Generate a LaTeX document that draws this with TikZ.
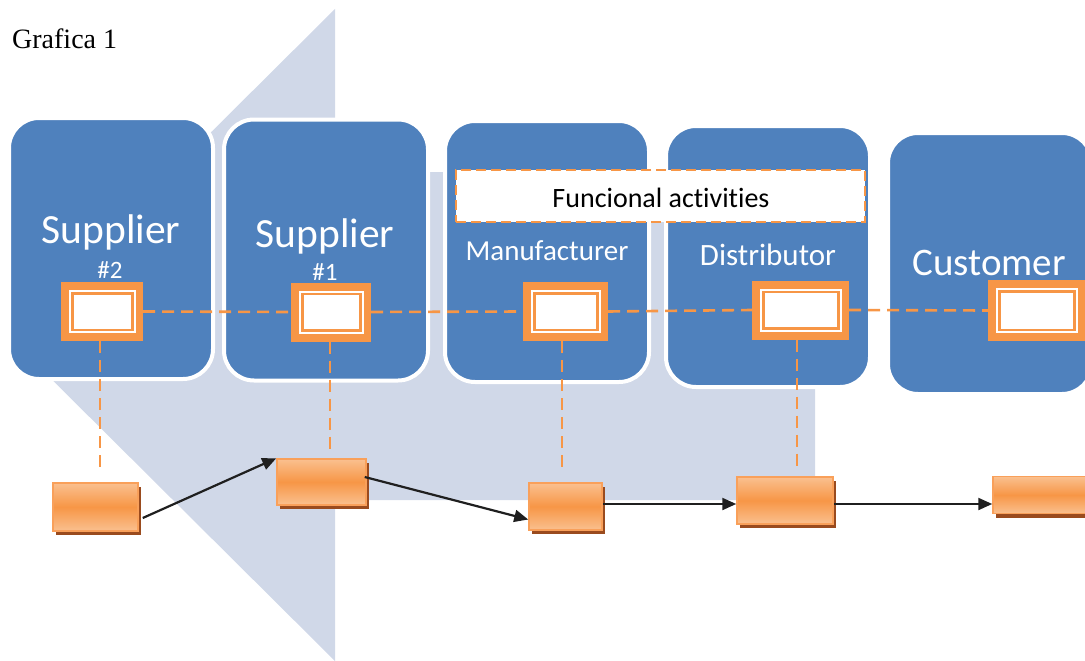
\documentclass[tikz,border=0pt]{standalone}
\usepackage{fontspec}
\setmainfont{Liberation Serif}
\newfontfamily\calfont[Ligatures=NoCommon]{Carlito}
\usetikzlibrary{arrows.meta,shadows}

\definecolor{boxblue}{HTML}{4F81BD}
\definecolor{backblue}{HTML}{D0D8E8}
\definecolor{boxorange}{HTML}{F79646}
\definecolor{orangelight}{HTML}{FAC08F}
\definecolor{orangeedge}{HTML}{F9A05A}
\definecolor{shadowbrown}{HTML}{9A4B1E}

\begin{document}
\begin{tikzpicture}[x=1pt,y=-1pt,
  bluebox/.style={rounded corners=30pt, fill=boxblue, draw=white, line width=4pt,
    minimum width=204pt, minimum height=261pt, inner sep=0pt},
  boxlabel/.style={text=white, anchor=base, inner sep=0pt},
  frame/.style={minimum width=#1, minimum height=59pt, inner sep=0pt, fill=boxorange,
    path picture={
      \fill[white] ([xshift=8pt,yshift=-8pt]path picture bounding box.north west)
        rectangle ([xshift=-7pt,yshift=8pt]path picture bounding box.south east);
      \draw[boxorange, line width=2.5pt]
        ([xshift=11.5pt,yshift=-11.5pt]path picture bounding box.north west)
        rectangle ([xshift=-10.5pt,yshift=11pt]path picture bounding box.south east);
    }},
  flowbox/.style={minimum width=#1, inner sep=0pt,
    top color=orangelight, bottom color=orangelight, middle color=boxorange,
    draw=orangeedge, line width=1.5pt,
    drop shadow={shadow xshift=3pt, shadow yshift=-4pt, fill=shadowbrown, opacity=1}},
  linkdash/.style={draw=boxorange, line width=2.6pt, dash pattern=on 12pt off 7pt},
  flowarrow/.style={-{Triangle[length=14pt,width=12pt]}, line width=2.2pt, draw=black!88}
]
\useasboundingbox (0,0) rectangle (1085,661);

% wide arrow in the background, pointing left
\fill[backblue] (335,9) -- (7,335) -- (335,661) -- (335,500) -- (815,500)
  -- (815,172) -- (335,172) -- cycle;

% title
\node[anchor=base west, inner sep=0pt, font=\fontsize{28}{32}\selectfont] (title) at (12,49) {Grafica 1};

% stages of the chain
\node[bluebox] (s2) at (111,248.5) {};
\node[bluebox] (s1) at (326,250) {};
\node[bluebox] (man) at (547,251.5) {};
\node[bluebox] (dis) at (768,256.5) {};
\node[bluebox] (cus) at (990,263.5) {};

\node[boxlabel, font=\calfont\fontsize{41.5}{48}\selectfont] (ts2) at (111,243) {Supplier};
\node[boxlabel, font=\calfont\fontsize{25}{30}\selectfont] (ns2) at (110,278) {\#2};
\node[boxlabel, font=\calfont\fontsize{41.5}{48}\selectfont] (ts1) at (325,247) {Supplier};
\node[boxlabel, font=\calfont\fontsize{25}{30}\selectfont] (ns1) at (325,280) {\#1};
\node[boxlabel, font=\calfont\fontsize{29}{34}\selectfont] (tman) at (547,260) {Manufacturer};
\node[boxlabel, font=\calfont\fontsize{31}{36}\selectfont] (tdis) at (768,265) {Distributor};
\node[boxlabel, font=\calfont\fontsize{39}{46}\selectfont] (tcus) at (989,275) {Customer};

% functional activities band
\node[fill=white, draw=boxorange, line width=2.2pt, dash pattern=on 10pt off 5pt,
  minimum width=409pt, minimum height=52pt, inner sep=0pt] (func) at (660.5,196) {};
\node[anchor=base, inner sep=0pt, font=\calfont\fontsize{28}{32}\selectfont] (tfunc) at (661,207) {Funcional activities};

% frames on each stage
\node[frame=82pt] (f2) at (102,311.5) {};
\node[frame=80pt] (f1) at (331,312) {};
\node[frame=85pt] (fm) at (565.5,311.5) {};
\node[frame=97pt] (fd) at (800.5,310) {};
\node[frame=97pt, minimum height=61pt] (fc) at (1036.5,310.5) {};

% lower flow boxes
\node[flowbox=85pt, minimum height=48pt] (b1) at (95.5,507) {};
\node[flowbox=89pt, minimum height=46pt] (b2) at (321.5,482) {};
\node[flowbox=73pt, minimum height=47pt] (b3) at (565.5,506.5) {};
\node[flowbox=96pt, minimum height=47pt] (b4) at (785,500.5) {};
\node[flowbox=96pt, minimum height=37pt] (b5) at (1041,495) {};

% dashed links
\draw[linkdash] (f2.east) -- (f1.west);
\draw[linkdash] (f1.east) -- (fm.west);
\draw[linkdash] (fm.east) -- (fd.west);
\draw[linkdash] (fd.east) -- (fc.west);
\draw[linkdash, shorten >=11pt] ([xshift=-2pt]f2.south) -- ([xshift=-2pt]f2.south |- b1.north);
\draw[linkdash, shorten >=6pt] ([xshift=-1pt]f1.south) -- ([xshift=-1pt]f1.south |- b2.north);
\draw[linkdash, shorten >=11pt] ([xshift=-3.5pt]fm.south) -- ([xshift=-3.5pt]fm.south |- b3.north);
\draw[linkdash, shorten >=5pt] ([xshift=-3.5pt]fd.south) -- ([xshift=-3.5pt]fd.south |- b4.north);

% flow arrows
\draw[flowarrow] ([xshift=4pt,yshift=-11pt]b1.east) -- (b2.north west);
\draw[flowarrow] ([xshift=-2pt,yshift=5pt]b2.east) -- ([yshift=-13pt]b3.west);
\draw[flowarrow] ([yshift=2.5pt]b3.east) -- ([yshift=-3.5pt]b4.west);
\draw[flowarrow] ([yshift=-3.5pt]b4.east) -- ([yshift=-9pt]b5.west);
\end{tikzpicture}
\end{document}
